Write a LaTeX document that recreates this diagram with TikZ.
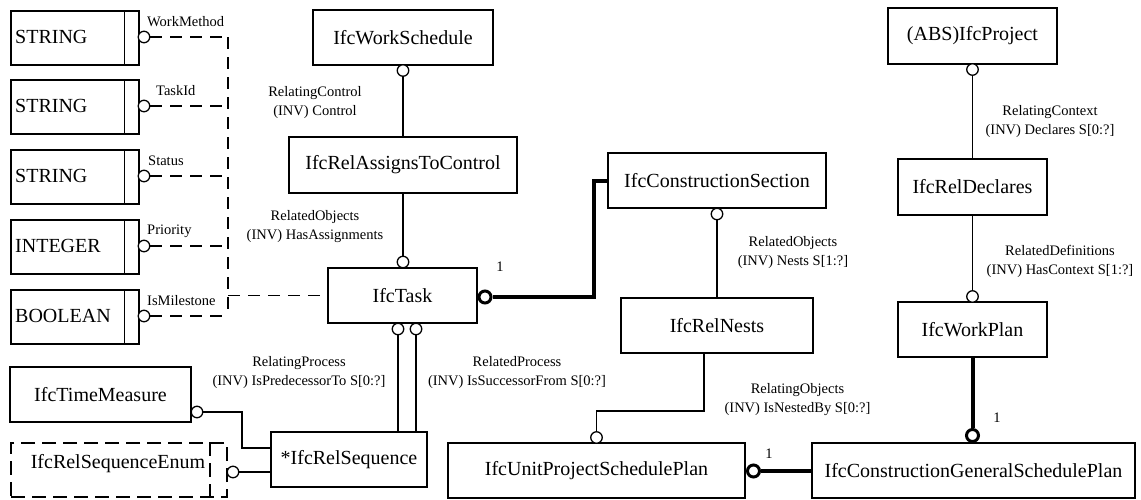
\documentclass[tikz,border=0pt]{standalone}
\usepackage{fontspec}
\setmainfont{Liberation Serif}
\begin{document}
\begin{tikzpicture}[x=1pt,y=-1pt,
  box/.style={draw,line width=1.6pt,minimum height=55pt,inner sep=0pt,font=\fontsize{20}{24}\selectfont},
  lbl/.style={inner sep=0pt,align=center,font=\fontsize{14.5}{19}\selectfont},
  conn/.style={line width=1.3pt},
  dconn/.style={line width=1.3pt,dash pattern=on 12pt off 8pt},
  thk/.style={line width=4pt},
  oc/.style={circle,draw,fill=white,line width=1.3pt,minimum size=11.5pt,inner sep=0pt},
  toc/.style={circle,draw,fill=white,line width=3pt,minimum size=12pt,inner sep=0pt},
]
\useasboundingbox (0,0) rectangle (1141,499);

% ---- attribute types of IfcTask ----
\foreach \i/\t/\lab/\top/\lx in {1/STRING/WorkMethod/10/147,2/STRING/TaskId/79/156,3/STRING/Status/149/148,4/INTEGER/Priority/219/147,5/BOOLEAN/IsMilestone/289/147}{
  \node[box,minimum width=128pt,minimum height=54pt,anchor=north west] (att\i) at (10,\top) {};
  \draw[line width=1.6pt] ([xshift=-15pt]att\i.north east) -- ([xshift=-15pt]att\i.south east);
  \node[inner sep=0pt,anchor=west,font=\fontsize{20}{24}\selectfont] (att\i t) at (15,{\top+27}) {\t};
  \node[oc] (att\i c) at (144,{\top+27}) {};
  \node[lbl,anchor=west] (att\i l) at (\lx,{\top+12}) {\lab};
}

% ---- entity boxes ----
\node[box,minimum width=180pt] (ws) at (403,37.5) {IfcWorkSchedule};
\node[box,minimum width=228pt,minimum height=56pt] (ratc) at (403,165) {IfcRelAssignsToControl};
\node[box,minimum width=149pt] (task) at (402.5,295.5) {IfcTask};
\node[box,minimum width=156pt] (seq) at (349,459.5) {*IfcRelSequence};
\node[box,minimum width=181pt] (tm) at (100.5,394.5) {IfcTimeMeasure};
\node[box,dashed,dash pattern=on 14pt off 7pt,minimum width=216pt,minimum height=54pt] (enum) at (119,470) {};
\draw[line width=1.6pt,dash pattern=on 14pt off 7pt] ([xshift=-18pt]enum.north east) -- ([xshift=-18pt]enum.south east);
\node[inner sep=0pt,font=\fontsize{20}{24}\selectfont] (enumt) at (118,464) {IfcRelSequenceEnum};
\node[box,minimum width=218pt] (cs) at (717,180.5) {IfcConstructionSection};
\node[box,minimum width=192pt] (nests) at (717,325.5) {IfcRelNests};
\node[box,minimum width=297pt] (upsp) at (596.5,470.5) {IfcUnitProjectSchedulePlan};
\node[box,minimum width=323pt] (cgsp) at (973.5,470.5) {IfcConstructionGeneralSchedulePlan};
\node[box,minimum width=169pt,minimum height=56pt] (proj) at (972.5,36) {(ABS)IfcProject};
\node[box,minimum width=149pt,minimum height=56pt] (decl) at (972.5,187) {IfcRelDeclares};
\node[box,minimum width=149pt] (wp) at (972.5,329.5) {IfcWorkPlan};

% ---- attribute connectors ----
\coordinate (bus) at (228,317);
\foreach \i in {1,...,5}{
  \draw[dconn] (att\i c.east) -- (att\i c.east -| bus);
}
\draw[dconn] (att1c.east -| bus) -- (att5c.east -| bus);
\draw[dconn] (task.west -| bus) -- (task.west);

% ---- thin connectors with open circles ----
\node[oc] (wsc) at (403,70.5) {};
\draw[conn] (wsc.south) -- (wsc.south |- ratc.north);
\node[oc] (tkc) at (403,262) {};
\draw[conn] (ratc.south -| tkc) -- (tkc.north);

\node[oc] (tkc1) at (398,329) {};
\node[oc] (tkc2) at (416,329) {};
\draw[conn] (tkc1.south) -- (tkc1.south |- seq.north);
\draw[conn] (tkc2.south) -- (tkc2.south |- seq.north);

\node[oc] (tmc) at (197,412) {};
\coordinate (bendC) at (242,412);
\coordinate (seqin) at (271,448);
\draw[conn] (tmc.east) -- (bendC) |- (seqin);

\node[oc] (enc) at (233,472) {};
\draw[conn] (enc.east) -- (enc.east -| seq.west);

\node[oc] (csc) at (717,214) {};
\draw[conn] (csc.south) -- (csc.south |- nests.north);

\node[oc] (upc) at (596.5,437.5) {};
\coordinate (bendB) at (704,411);
\draw[conn] (nests.south -| bendB) -- (bendB) -| (upc.north);

\node[oc] (pjc) at (972.5,69.5) {};
\draw[conn] (pjc.south) -- (pjc.south |- decl.north);
\node[oc] (wpc) at (972.5,296.5) {};
\draw[conn] (decl.south -| wpc) -- (wpc.north);

% ---- thick connectors ----
\node[toc] (ttc) at (485,297) {};
\coordinate (bendA) at (594,297);
\draw[thk] (ttc.east) -- (bendA) |- (cs.west);
\node[toc] (utc) at (753.5,471) {};
\draw[thk] (utc.east) -- (utc.east -| cgsp.west);
\node[toc] (gtc) at (972.5,435.5) {};
\draw[thk] (wp.south) -- (gtc.north);

% ---- role labels ----
\node[lbl] (l1) at (315,102.5) {RelatingControl\\(INV) Control};
\node[lbl] (l2) at (315,227) {RelatedObjects\\(INV) HasAssignments};
\node[lbl] (l3) at (299,372.5) {RelatingProcess\\(INV) IsPredecessorTo S[0:?]};
\node[lbl] (l4) at (517,372.5) {RelatedProcess\\(INV) IsSuccessorFrom S[0:?]};
\node[lbl] (l5) at (793,252.5) {RelatedObjects\\(INV) Nests S[1:?]};
\node[lbl] (l6) at (797.5,400) {RelatingObjects\\(INV) IsNestedBy S[0:?]};
\node[lbl] (l7) at (1050,121.5) {RelatingContext\\(INV) Declares S[0:?]};
\node[lbl] (l8) at (1060,261.5) {RelatedDefinitions\\(INV) HasContext S[1:?]};
\node[lbl] (n1) at (500,267) {1};
\node[lbl] (n2) at (769,454) {1};
\node[lbl] (n3) at (997,418) {1};
\end{tikzpicture}
\end{document}
